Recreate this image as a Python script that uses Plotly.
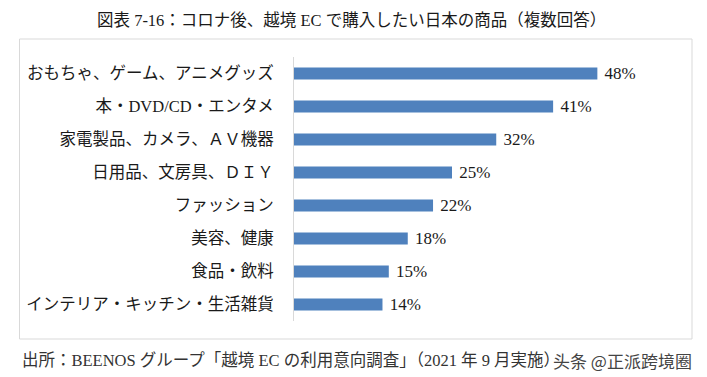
import plotly.graph_objects as go

categories = [
    "おもちゃ、ゲーム、アニメグッズ",
    "本・DVD/CD・エンタメ",
    "家電製品、カメラ、ＡＶ機器",
    "日用品、文房具、ＤＩＹ",
    "ファッション",
    "美容、健康",
    "食品・飲料",
    "インテリア・キッチン・生活雑貨",
]
values = [48, 41, 32, 25, 22, 18, 15, 14]
value_labels = [f"{v}%" for v in values]

title_text = "図表 7-16：コロナ後、越境 EC で購入したい日本の商品（複数回答）"
source_text = "出所：BEENOS グループ「越境 EC の利用意向調査」（2021 年 9 月実施）"
watermark_text = "头条 @正派跨境圈"

FONT = "Liberation Serif, Noto Sans CJK JP, serif"

fig = go.Figure(
    go.Bar(
        x=values,
        y=categories,
        orientation="h",
        marker=dict(color="#4F81BD", line=dict(width=0)),
        text=[" " + t for t in value_labels],
        textposition="outside",
        constraintext="none",
        textfont=dict(family=FONT, size=17, color="#1a1a1a"),
        cliponaxis=False,
        width=0.36,
        hoverinfo="skip",
    )
)

W, H = 707, 377
L, R, T, B = 294, 97, 57, 56
pw = W - L - R
ph = H - T - B


def px_x(x):
    return (x - L) / pw


def px_y(y):
    return (H - B - y) / ph


fig.update_layout(
    width=W,
    height=H,
    margin=dict(l=L, r=R, t=T, b=B, autoexpand=False),
    paper_bgcolor="white",
    plot_bgcolor="white",
    showlegend=False,
    font=dict(family=FONT, color="#1a1a1a"),
    xaxis=dict(
        range=[0, 50],
        visible=False,
        showgrid=False,
        zeroline=False,
    ),
    yaxis=dict(
        autorange="reversed",
        showgrid=False,
        zeroline=False,
        showline=True,
        linecolor="#d9d9d9",
        linewidth=1,
        ticks="",
        ticklabelstandoff=16,
        tickfont=dict(family=FONT, size=16.5, color="#1a1a1a"),
    ),
    shapes=[
        dict(
            type="rect",
            xref="paper",
            yref="paper",
            x0=px_x(19.5),
            x1=px_x(692),
            y0=px_y(339),
            y1=px_y(39),
            line=dict(color="#d9d9d9", width=1),
            fillcolor="rgba(0,0,0,0)",
            layer="below",
        )
    ],
    annotations=[
        dict(
            text=title_text,
            xref="paper",
            yref="paper",
            x=px_x(351),
            y=px_y(20),
            xanchor="center",
            yanchor="middle",
            showarrow=False,
            font=dict(family=FONT, size=16.5, color="#1a1a1a"),
        ),
        dict(
            text=source_text,
            xref="paper",
            yref="paper",
            x=px_x(20),
            y=px_y(360),
            xanchor="left",
            yanchor="middle",
            showarrow=False,
            font=dict(family=FONT, size=16.5, color="#333333"),
        ),
        dict(
            text=watermark_text,
            xref="paper",
            yref="paper",
            x=px_x(694),
            y=px_y(360),
            xanchor="right",
            yanchor="middle",
            showarrow=False,
            bgcolor="#ffffff",
            borderpad=1,
            font=dict(family="Noto Sans CJK SC, sans-serif", size=17, color="#444444"),
        ),
    ],
)

fig.write_html(
    "out.html",
    config={"displayModeBar": False},
    post_script="document.body.style.margin='0';",
)
